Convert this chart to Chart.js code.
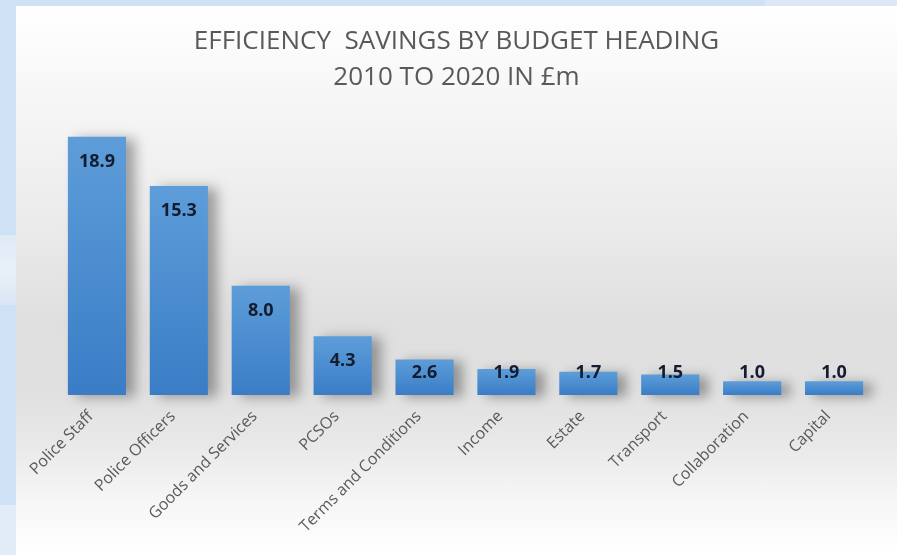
<!DOCTYPE html>
<html>
<head>
<meta charset="utf-8">
<script src="https://cdn.jsdelivr.net/npm/chart.js@4/dist/chart.umd.min.js"></script>
<style>
html,body{margin:0;padding:0;width:897px;height:555px;overflow:hidden;background:#cfe1f5;}
#strip{position:absolute;left:765px;top:0;width:132px;height:6px;background:#dce8f6;}
#lb{position:absolute;left:0;top:505px;width:16px;height:50px;background:#e2ecf8;}
#lb2{position:absolute;left:0;top:235px;width:16px;height:70px;background:linear-gradient(#dfeaf6,#e9f0f8 50%,#d9e6f5);}
#card{position:absolute;left:16px;top:6px;width:881px;height:549px;
  background:linear-gradient(to bottom,#ffffff 0%,#f7f7f7 15%,#ececec 38%,#dfdfdf 58%,#e0e0e0 70%,#e9e9e9 80%,#f6f6f6 90%,#ffffff 100%);}
#c{position:absolute;left:0;top:0;}
</style>
</head>
<body>
<div id="strip"></div>
<div id="lb2"></div>
<div id="lb"></div>
<div id="card"><canvas id="c" width="881" height="549"></canvas></div>
<script>
const categories = ["Police Staff","Police Officers","Goods and Services","PCSOs","Terms and Conditions","Income","Estate","Transport","Collaboration","Capital"];
const savings = [18.9, 15.3, 8.0, 4.3, 2.6, 1.9, 1.7, 1.5, 1.0, 1.0];
const titleLines = ["EFFICIENCY  SAVINGS BY BUDGET HEADING", "2010 TO 2020 IN \u00a3m"];

const barFx = {
  id: 'barFx',
  beforeDatasetsDraw(chart) {
    const ctx = chart.ctx;
    ctx.save();
    ctx.shadowColor = 'rgba(0,0,0,0.34)';
    ctx.shadowBlur = 12;
    ctx.shadowOffsetX = 9;
    ctx.shadowOffsetY = 2;
  },
  afterDatasetsDraw(chart) {
    const ctx = chart.ctx;
    ctx.restore();
    const meta = chart.getDatasetMeta(0);
    ctx.save();
    ctx.font = 'bold 18px "Open Sans"';
    ctx.fillStyle = '#141c30';
    ctx.textAlign = 'center';
    ctx.textBaseline = 'middle';
    meta.data.forEach((bar, i) => {
      const y = Math.min(bar.y + 25, bar.base - 22);
      ctx.fillText(savings[i].toFixed(1), bar.x, y);
    });
    ctx.restore();
  }
};

function build() {
  new Chart(document.getElementById('c'), {
    type: 'bar',
    data: {
      labels: categories,
      datasets: [{
        data: savings,
        clip: false,
        categoryPercentage: 1,
        barPercentage: 0.71,
        borderWidth: 0,
        backgroundColor: (c) => {
          const ch = c.chart;
          if (!ch.chartArea || !ch.scales.y) return '#5b9bd5';
          const ys = ch.scales.y;
          const t = ys.getPixelForValue(c.raw);
          const b = ys.getPixelForValue(0);
          const g = ch.ctx.createLinearGradient(0, t, 0, b);
          g.addColorStop(0, '#5d9dd9');
          g.addColorStop(1, '#3a7dc6');
          return g;
        }
      }]
    },
    options: {
      responsive: false,
      animation: false,
      layout: { padding: { left: 22, right: 22, top: 17, bottom: 0 } },
      plugins: {
        legend: { display: false },
        tooltip: { enabled: false },
        title: {
          display: true,
          text: titleLines,
          color: '#595959',
          font: { family: 'Open Sans', size: 26, weight: 'normal', lineHeight: 1.4 },
          padding: { top: 0, bottom: 26 }
        }
      },
      scales: {
        x: {
          grid: { display: false },
          border: { display: false },
          ticks: {
            color: '#595959',
            font: { family: 'Open Sans', size: 16 },
            maxRotation: 45,
            minRotation: 45,
            padding: 4,
            labelOffset: -6,
            autoSkip: false
          },
          afterFit(scale) {
            scale.height = 160;
            scale.paddingLeft = 0;
            scale.paddingRight = 0;
          }
        },
        y: {
          display: true,
          min: 0,
          max: 20,
          grid: { display: false },
          border: { display: false },
          ticks: { display: false },
          afterFit(scale) {
            scale.width = 18;
            scale.paddingTop = 0;
            scale.paddingBottom = 0;
          }
        }
      }
    },
    plugins: [barFx]
  });
}

Promise.all([
  document.fonts.load('26px "Open Sans"'),
  document.fonts.load('16px "Open Sans"'),
  document.fonts.load('bold 18px "Open Sans"')
]).then(build, build);
</script>
</body>
</html>
